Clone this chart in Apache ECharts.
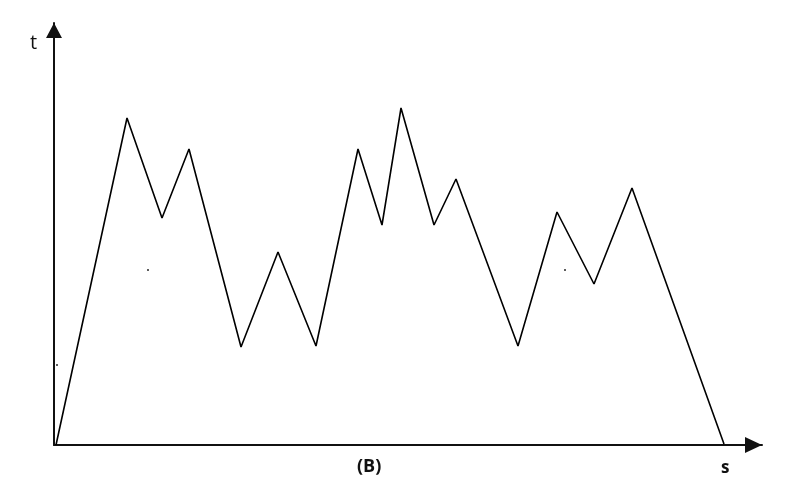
<!DOCTYPE html>
<html>
<head>
<meta charset="utf-8">
<script src="https://cdn.jsdelivr.net/npm/echarts@6/dist/echarts.min.js"></script>
<style>html,body{margin:0;padding:0;background:#fff;}#c{width:790px;height:503px;}</style>
</head>
<body>
<div id="c"></div>
<script>
var sValues = [2, 73, 108, 135, 187, 224, 262, 304, 328, 347, 380, 402, 464, 503, 540, 578, 670];
var tValues = [0, 327, 227, 296, 98, 193, 99, 296, 220, 337, 220, 266, 99, 233, 161, 257, 1];
var dotS = [94, 3, 511];
var dotT = [175, 80, 175];
var xLabel = 's';
var yLabel = 't';
var caption = '(B)';

var lineData = sValues.map(function (s, i) { return [s, tValues[i]]; });
var dotData = dotS.map(function (s, i) { return [s, dotT[i]]; });

var chart = echarts.init(document.getElementById('c'), null, {renderer: 'canvas'});
chart.setOption({
  animation: false,
  backgroundColor: '#fff',
  grid: {left: 54, right: 28, top: 23, bottom: 58, containLabel: false},
  xAxis: {
    type: 'value', min: 0, max: 708,
    axisLine: {show: true, symbol: ['none', 'triangle'], symbolSize: [16, 17], symbolOffset: [0, -8.5],
      lineStyle: {color: '#111', width: 2}},
    axisTick: {show: false}, axisLabel: {show: false}, splitLine: {show: false}
  },
  yAxis: {
    type: 'value', min: 0, max: 422,
    axisLine: {show: true, symbol: ['none', 'triangle'], symbolSize: [16, 15], symbolOffset: [0, -7.5],
      lineStyle: {color: '#111', width: 2}},
    axisTick: {show: false}, axisLabel: {show: false}, splitLine: {show: false}
  },
  graphic: [
    {type: 'text', left: 30, top: 33, style: {text: yLabel, font: '20px "Open Sans", sans-serif', fill: '#111'}},
    {type: 'text', left: 721, top: 460, style: {text: xLabel, font: 'bold 17px "Open Sans", sans-serif', fill: '#111'}},
    {type: 'text', left: 357, top: 458, style: {text: caption, font: 'bold 18px "Open Sans", sans-serif', fill: '#111'}}
  ],
  series: [
    {type: 'line', data: lineData, symbol: 'none', lineStyle: {color: '#000', width: 1.6}},
    {type: 'scatter', data: dotData, symbol: 'rect', symbolSize: 2, itemStyle: {color: '#333'}}
  ]
});
</script>
</body>
</html>
